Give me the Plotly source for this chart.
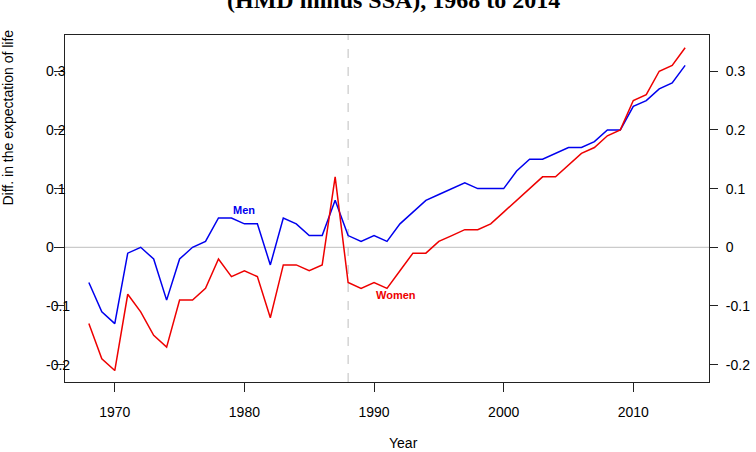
import plotly.graph_objects as go

years = [1968, 1969, 1970, 1971, 1972, 1973, 1974, 1975, 1976, 1977,
         1978, 1979, 1980, 1981, 1982, 1983, 1984, 1985, 1986, 1987,
         1988, 1989, 1990, 1991, 1992, 1993, 1994, 1995, 1996, 1997,
         1998, 1999, 2000, 2001, 2002, 2003, 2004, 2005, 2006, 2007,
         2008, 2009, 2010, 2011, 2012, 2013, 2014]

men = [-0.06, -0.11, -0.13, -0.01, 0.00, -0.02, -0.09, -0.02, 0.00, 0.01,
       0.05, 0.05, 0.04, 0.04, -0.03, 0.05, 0.04, 0.02, 0.02, 0.08,
       0.02, 0.01, 0.02, 0.01, 0.04, 0.06, 0.08, 0.09, 0.10, 0.11,
       0.10, 0.10, 0.10, 0.13, 0.15, 0.15, 0.16, 0.17, 0.17, 0.18,
       0.20, 0.20, 0.24, 0.25, 0.27, 0.28, 0.31]

women = [-0.13, -0.19, -0.21, -0.08, -0.11, -0.15, -0.17, -0.09, -0.09, -0.07,
         -0.02, -0.05, -0.04, -0.05, -0.12, -0.03, -0.03, -0.04, -0.03, 0.12,
         -0.06, -0.07, -0.06, -0.07, -0.04, -0.01, -0.01, 0.01, 0.02, 0.03,
         0.03, 0.04, 0.06, 0.08, 0.10, 0.12, 0.12, 0.14, 0.16, 0.17,
         0.19, 0.20, 0.25, 0.26, 0.30, 0.31, 0.34]

x_ticks = [1970, 1980, 1990, 2000, 2010]
x_tick_labels = ["1970", "1980", "1990", "2000", "2010"]
y_ticks = [-0.2, -0.1, 0, 0.1, 0.2, 0.3]
y_tick_labels = ["-0.2", "-0.1", "0", "0.1", "0.2", "0.3"]
ref_year = 1988

title_text = "(HMD minus SSA), 1968 to 2014"
x_title = "Year"
y_title = "Diff. in the expectation of life"

BLUE = "#0000EE"
RED = "#EE0000"
AX = "#222222"
SANS = "Liberation Sans, Arial, sans-serif"
SERIF = "Liberation Serif, Times New Roman, serif"

xr = [1966.16, 2015.84]
yr = [-0.2295, 0.3617]

fig = go.Figure()
fig.add_trace(go.Scatter(x=years, y=men, mode="lines",
                         line=dict(color=BLUE, width=1.5), showlegend=False))
fig.add_trace(go.Scatter(x=years, y=women, mode="lines",
                         line=dict(color=RED, width=1.5), showlegend=False))
# invisible traces to activate the extra axes
fig.add_trace(go.Scatter(x=years, y=men, yaxis="y2", mode="lines",
                         line=dict(width=0), hoverinfo="skip", showlegend=False, opacity=0))
fig.add_trace(go.Scatter(x=years, y=men, yaxis="y3", mode="lines",
                         line=dict(width=0), hoverinfo="skip", showlegend=False, opacity=0))

fig.add_hline(y=0, line=dict(color="#BEBEBE", width=1), layer="below")
fig.add_vline(x=ref_year, line=dict(color="#BEBEBE", width=1, dash="dash"), layer="below")

L, R, T, B = 20, 47, 35, 70
W, H = 756, 452
pw = W - L - R
ph = H - T - B
dom0 = (65 - L) / pw

def px_x(p):
    return (p - L) / pw

def px_y(p):
    return (H - B - p) / ph

fig.update_layout(
    width=W, height=H,
    margin=dict(l=L, r=R, t=T, b=B, pad=0, autoexpand=False),
    paper_bgcolor="white", plot_bgcolor="white",
    font=dict(family=SANS, size=14, color="#000000"),
    xaxis=dict(domain=[dom0, 1], range=xr, showgrid=False, zeroline=False,
               automargin=False,
               showline=True, linecolor=AX, linewidth=1, mirror=True,
               ticks="outside", ticklen=9, tickcolor=AX, tickwidth=1,
               tickvals=x_ticks, ticktext=x_tick_labels,
               tickfont=dict(family=SANS, size=14, color="#000"),
               ticklabelstandoff=8),
    yaxis=dict(range=yr, showgrid=False, zeroline=False, automargin=False,
               showline=True, linecolor=AX, linewidth=1, mirror=True,
               ticks="outside", ticklen=10, tickcolor=AX, tickwidth=1,
               tickvals=y_ticks, showticklabels=False),
    yaxis2=dict(range=yr, overlaying="y", side="right", anchor="x",
                automargin=False,
                showgrid=False, zeroline=False, showline=True, linecolor=AX,
                linewidth=1, ticks="outside", ticklen=8, tickcolor=AX,
                tickvals=y_ticks, ticktext=y_tick_labels,
                tickfont=dict(family=SANS, size=14, color="#000"),
                ticklabelstandoff=5),
    yaxis3=dict(range=yr, overlaying="y", side="right", anchor="free",
                automargin=False,
                position=px_x(45), showgrid=False, zeroline=False,
                showline=False, ticks="",
                tickvals=y_ticks, ticktext=y_tick_labels,
                tickfont=dict(family=SANS, size=14, color="#000")),
)

fig.add_annotation(text="<b>" + title_text + "</b>", xref="paper", yref="paper",
                   x=px_x(393), y=px_y(0.5), xanchor="center", yanchor="middle",
                   showarrow=False, font=dict(family=SERIF, size=24, color="#000"))
fig.add_annotation(text=x_title, xref="paper", yref="paper",
                   x=px_x(403), y=px_y(443), xanchor="center", yanchor="middle",
                   showarrow=False, font=dict(family=SANS, size=14, color="#000"))
fig.add_annotation(text=y_title, xref="paper", yref="paper", textangle=-90,
                   x=px_x(7.5), y=px_y(118), xanchor="center", yanchor="middle",
                   showarrow=False, font=dict(family=SANS, size=14, color="#000"))
fig.add_annotation(text="<b>Men</b>", xref="x", yref="y", x=1979.94, y=0.0635,
                   showarrow=False, font=dict(family=SANS, size=11, color=BLUE))
fig.add_annotation(text="<b>Women</b>", xref="x", yref="y", x=1991.7, y=-0.081,
                   showarrow=False, font=dict(family=SANS, size=11, color=RED))

fig.write_html("out.html")
